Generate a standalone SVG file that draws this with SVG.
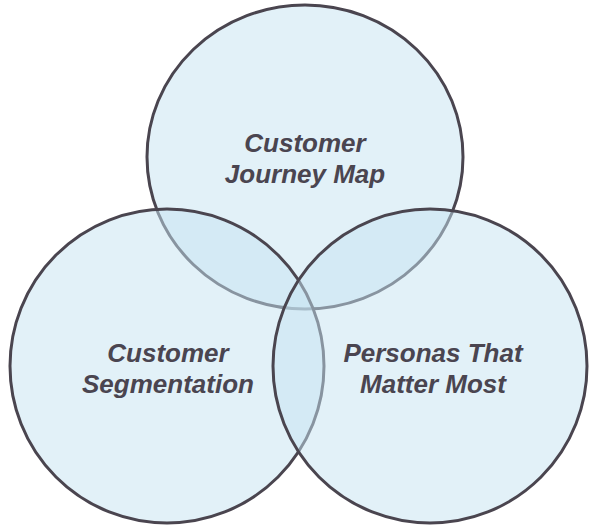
<svg xmlns="http://www.w3.org/2000/svg" width="591" height="526" viewBox="0 0 591 526">
  <style>
    .ring { fill: #c5e3f1; fill-opacity: 0.5; stroke: #4a454f; stroke-width: 3; }
    .label { font-family: "Liberation Sans", Arial, sans-serif; font-weight: bold; font-style: italic; font-size: 26px; fill: #4a4550; text-anchor: middle; }
  </style>
  <rect width="591" height="526" fill="#ffffff"/>
  <g id="journey-map">
    <ellipse class="ring" cx="305" cy="157" rx="158" ry="152"/>
    <text class="label" x="305" y="152">Customer</text>
    <text class="label" x="305" y="183">Journey Map</text>
  </g>
  <g id="segmentation">
    <circle class="ring" cx="167" cy="366" r="157"/>
    <text class="label" x="168" y="362">Customer</text>
    <text class="label" x="168" y="393">Segmentation</text>
  </g>
  <g id="personas">
    <circle class="ring" cx="430" cy="366" r="157"/>
    <text class="label" x="433" y="362">Personas That</text>
    <text class="label" x="433" y="393">Matter Most</text>
  </g>
</svg>
